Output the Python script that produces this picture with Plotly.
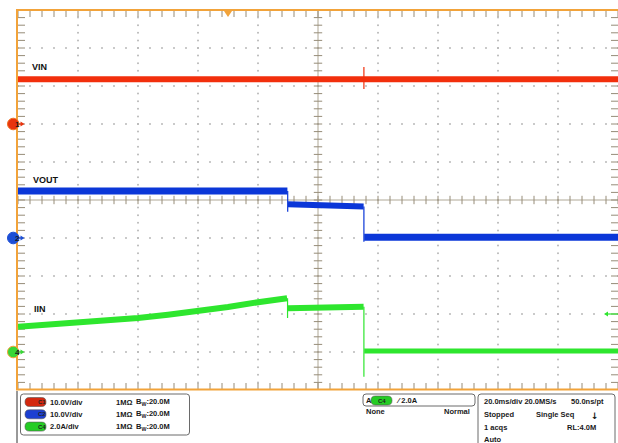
import numpy as np
import plotly.graph_objects as go

# ---------------- data ----------------
# time in ms relative to screen centre (20 ms/div), values in channel units
vin_t = [-100, 100]
vin_v = [11.8, 11.8]
vin_spike_t = [15.3, 15.3]
vin_spike_v = [15.0, 9.2]

vout_seg1_t = [-100, -10.2]
vout_seg1_v = [12.4, 12.4]
vout_seg2_t = [-10.0, 15.2]
vout_seg2_v = [8.9, 8.3]
vout_seg3_t = [15.4, 100]
vout_seg3_v = [0.2, 0.2]
vout_step1_t = [-10.1, -10.1]
vout_step1_v = [12.4, 6.9]
vout_step2_t = [15.3, 15.3]
vout_step2_v = [8.3, -1.0]

iin_seg1_t = [-100, -80, -70, -60, -50, -40, -30, -20, -10.3]
iin_seg1_v = [1.33, 1.53, 1.67, 1.79, 1.96, 2.14, 2.37, 2.62, 2.83]
iin_seg2_t = [-10.0, 15.2]
iin_seg2_v = [2.30, 2.38]
iin_seg3_t = [15.4, 100]
iin_seg3_v = [0.05, 0.05]
iin_step1_t = [-10.15, -10.15]
iin_step1_v = [2.83, 1.79]
iin_step2_t = [15.3, 15.3]
iin_step2_v = [2.38, -1.3]

# channel settings: volts (amps) per division and ground position (divisions)
ch1_scale, ch1_pos = 10.0, 2.0
ch2_scale, ch2_pos = 10.0, -1.0
ch4_scale, ch4_pos = 2.0, -4.0
trigger_level = 2.0
trigger_time = -30.0

left_info = [("C1", "10.0V/div"), ("C2", "10.0V/div"), ("C4", "2.0A/div")]

RED = "#f22f0c"
BLUE = "#0b37d8"
GREEN = "#2ee62e"
ORANGE = "#f2a33a"

W, H = 618, 443
L, T, PW, PH = 18, 10, 600, 380


def px(x):
    return (x - L) / PW


def py(y):
    return (T + PH - y) / PH


def div(vals, scale, pos):
    return [pos + v / scale for v in vals]


fig = go.Figure()

# ---------------- graticule ----------------
gx, gy = [], []
for xm in range(-80, 81, 20):
    if xm == 0:
        continue
    for yv in np.arange(-5, 5.001, 0.2):
        gx.append(xm)
        gy.append(yv)
for ym in range(-4, 5):
    if ym == 0:
        continue
    for xv in np.arange(-100, 100.001, 4):
        gx.append(xv)
        gy.append(ym)
fig.add_trace(go.Scatter(x=gx, y=gy, mode="markers",
                         marker=dict(size=2, color="rgb(185,185,185)"),
                         hoverinfo="skip", showlegend=False))

# centre lines
fig.add_trace(go.Scatter(x=[-100, 100], y=[0, 0], mode="lines",
                         line=dict(color="rgb(175,168,150)", width=1),
                         hoverinfo="skip", showlegend=False))
fig.add_trace(go.Scatter(x=[0, 0], y=[-5, 5], mode="lines",
                         line=dict(color="rgb(175,168,150)", width=1),
                         hoverinfo="skip", showlegend=False))
# ticks on centre lines and edges
tx = list(np.arange(-100, 100.001, 4))
ty = list(np.arange(-5, 5.001, 0.2))
tick_col = "rgb(150,140,120)"
for yy in (0, 5, -5):
    fig.add_trace(go.Scatter(x=tx, y=[yy] * len(tx), mode="markers",
                             marker=dict(symbol="line-ns", size=10 if yy else 6,
                                         line=dict(width=1, color=tick_col)),
                             hoverinfo="skip", showlegend=False))
for xx in (0, -100, 100):
    fig.add_trace(go.Scatter(x=[xx] * len(ty), y=ty, mode="markers",
                             marker=dict(symbol="line-ew", size=10 if xx else 6,
                                         line=dict(width=1, color=tick_col)),
                             hoverinfo="skip", showlegend=False))


# ---------------- waveforms ----------------
def band(t, v, scale, pos, color, width):
    fig.add_trace(go.Scatter(x=t, y=div(v, scale, pos), mode="lines",
                             line=dict(color=color, width=width),
                             hoverinfo="skip", showlegend=False))


band(vin_t, vin_v, ch1_scale, ch1_pos, RED, 6)
band(vin_spike_t, vin_spike_v, ch1_scale, ch1_pos, RED, 1.2)

band(vout_seg1_t, vout_seg1_v, ch2_scale, ch2_pos, BLUE, 7)
band(vout_seg2_t, vout_seg2_v, ch2_scale, ch2_pos, BLUE, 6)
band(vout_seg3_t, vout_seg3_v, ch2_scale, ch2_pos, BLUE, 7)
band(vout_step1_t, vout_step1_v, ch2_scale, ch2_pos, BLUE, 1.2)
band(vout_step2_t, vout_step2_v, ch2_scale, ch2_pos, BLUE, 1.2)

band(iin_seg1_t, iin_seg1_v, ch4_scale, ch4_pos, GREEN, 6)
band(iin_seg2_t, iin_seg2_v, ch4_scale, ch4_pos, GREEN, 6)
band(iin_seg3_t, iin_seg3_v, ch4_scale, ch4_pos, GREEN, 5)
band(iin_step1_t, iin_step1_v, ch4_scale, ch4_pos, GREEN, 1.2)
band(iin_step2_t, iin_step2_v, ch4_scale, ch4_pos, GREEN, 1.2)

# ---------------- decorations ----------------
shapes = []
ann = []

# orange frame
shapes += [
    dict(type="line", xref="paper", yref="paper", x0=px(16), x1=px(618), y0=py(10), y1=py(10),
         line=dict(color=ORANGE, width=2)),
    dict(type="line", xref="paper", yref="paper", x0=px(17), x1=px(17), y0=py(10), y1=py(390),
         line=dict(color=ORANGE, width=2)),
    dict(type="line", xref="paper", yref="paper", x0=px(16), x1=px(618), y0=py(389.5), y1=py(389.5),
         line=dict(color=ORANGE, width=2)),
    dict(type="line", xref="paper", yref="paper", x0=px(17), x1=px(17), y0=py(391), y1=py(443),
         line=dict(color="#333333", width=1)),
]

# trigger position marker (top)
tp = L + (trigger_time + 100) / 200 * PW
shapes.append(dict(type="path", xref="paper", yref="paper",
                   path=f"M {px(tp-4)},{py(11)} L {px(tp+4)},{py(11)} L {px(tp)},{py(17)} Z",
                   fillcolor=ORANGE, line=dict(width=0)))


def arrow(x_tail, x_head, y, col):
    d = 1 if x_head > x_tail else -1
    shapes.append(dict(type="line", xref="paper", yref="paper",
                       x0=px(x_tail), x1=px(x_head - 3 * d), y0=py(y), y1=py(y),
                       line=dict(color=col, width=1.2)))
    shapes.append(dict(type="path", xref="paper", yref="paper",
                       path=(f"M {px(x_head)},{py(y)} L {px(x_head - 4 * d)},{py(y - 2.5)} "
                             f"L {px(x_head - 4 * d)},{py(y + 2.5)} Z"),
                       fillcolor=col, line=dict(width=0)))


# trigger level arrow (right)
tl = T + PH / 2 - (ch4_pos + trigger_level / ch4_scale) * PH / 10
arrow(618, 604, tl, GREEN)

# channel ground markers
for pos, col, ring, num in [(ch1_pos, "#e8340e", "#f07020", "1"),
                            (ch2_pos, "#1d4fd6", "#1d4fd6", "2"),
                            (ch4_pos, "#37d637", ORANGE, "4")]:
    yy = T + PH / 2 - pos * PH / 10
    shapes.append(dict(type="circle", xref="paper", yref="paper",
                       x0=px(7.5), x1=px(19), y0=py(yy - 5.8), y1=py(yy + 5.8),
                       fillcolor=col, line=dict(color=ring, width=1)))
    ann.append(dict(x=px(13.3), y=py(yy), xref="paper", yref="paper", text=f"<b>{num}</b>",
                    showarrow=False, yanchor="middle",
                    font=dict(size=8, color="#1a1a1a", family="Liberation Sans")))
    arrow(19, 24.5, yy, col)

# trace labels
for txt_, x, y in [("VIN", 30, 67), ("VOUT", 31, 180), ("IIN", 32, 309)]:
    ann.append(dict(x=px(x), y=py(y), xref="paper", yref="paper", text=f"<b>{txt_}</b>",
                    showarrow=False, xanchor="left", yanchor="middle",
                    font=dict(size=9, color="#111", family="Liberation Sans")))


def rpath(x0, y0, x1, y1, r, open_bottom=False):
    p = (f"M {px(x0+r)},{py(y0)} L {px(x1-r)},{py(y0)} Q {px(x1)},{py(y0)} {px(x1)},{py(y0+r)} ")
    if open_bottom:
        p += f"L {px(x1)},{py(y1)} M {px(x0)},{py(y1)} "
        p += f"L {px(x0)},{py(y0+r)} Q {px(x0)},{py(y0)} {px(x0+r)},{py(y0)}"
        return p
    p += (f"L {px(x1)},{py(y1-r)} Q {px(x1)},{py(y1)} {px(x1-r)},{py(y1)} "
          f"L {px(x0+r)},{py(y1)} Q {px(x0)},{py(y1)} {px(x0)},{py(y1-r)} "
          f"L {px(x0)},{py(y0+r)} Q {px(x0)},{py(y0)} {px(x0+r)},{py(y0)} Z")
    return p


box_line = dict(color="#6a6a6a", width=1)
shapes.append(dict(type="path", xref="paper", yref="paper",
                   path=rpath(20.5, 394, 189.5, 435, 3), line=box_line))
shapes.append(dict(type="path", xref="paper", yref="paper",
                   path=rpath(363, 394, 475, 406, 3), line=box_line))
shapes.append(dict(type="path", xref="paper", yref="paper",
                   path=rpath(478, 394, 615, 446, 3, open_bottom=True), line=box_line))

FONT = dict(size=7.5, color="#1a1a1a", family="Liberation Sans")
pill_cols = {"C1": "#d3280f", "C2": "#1c3fd2", "C4": "#24cc24"}


def pill(x0, yc, label):
    shapes.append(dict(type="path", xref="paper", yref="paper",
                       path=rpath(x0, yc - 4.5, x0 + 21, yc + 4.5, 4.4),
                       fillcolor=pill_cols[label], line=dict(color="#555", width=0.6)))
    ann.append(dict(x=px(x0 + 10.5), y=py(yc), xref="paper", yref="paper",
                    text=f"<b>{label}</b>", showarrow=False, yanchor="middle",
                    font=dict(size=6, color="#222", family="Liberation Sans")))


def txt(x, y, s, anchor="left"):
    ann.append(dict(x=px(x), y=py(y), xref="paper", yref="paper", text=f"<b>{s}</b>",
                    showarrow=False, xanchor=anchor, yanchor="middle", font=FONT))


for i, (ch, s) in enumerate(left_info):
    yc = 402 + i * 12.3
    pill(25, yc, ch)
    txt(48, yc, s)
    txt(114, yc, "1MΩ")
    txt(134, yc, "B<sub>W</sub>:20.0M")

# trigger box
txt(364, 400.5, "A")
pill(371, 400.5, "C4")
txt(394, 400.5, "⁄ 2.0A")
txt(364, 411.5, "None")
txt(472, 411.5, "Normal", anchor="right")

# acquisition box
txt(482, 401.5, "20.0ms/div 20.0MS/s")
txt(606, 401.5, "50.0ns/pt", anchor="right")
txt(482, 414, "Stopped")
txt(534, 414, "Single Seq")
ann.append(dict(x=px(601), y=py(416), xref="paper", yref="paper", text="<b>↓</b>",
                showarrow=False, yanchor="middle",
                font=dict(size=9, color="#111", family="DejaVu Sans")))
txt(482, 427, "1 acqs")
txt(565, 427, "RL:4.0M")
txt(482, 439, "Auto")

fig.update_layout(
    width=W, height=H,
    margin=dict(l=L, r=W - L - PW, t=T, b=H - T - PH, pad=0),
    paper_bgcolor="white", plot_bgcolor="white",
    xaxis=dict(range=[-100, 100], showgrid=False, zeroline=False, showticklabels=False,
               ticks="", showline=False, fixedrange=True),
    yaxis=dict(range=[-5, 5], showgrid=False, zeroline=False, showticklabels=False,
               ticks="", showline=False, fixedrange=True),
    shapes=shapes, annotations=ann, showlegend=False,
)

fig.write_html("out.html", config=dict(displayModeBar=False),
               post_script="document.body.style.margin='0px';document.body.style.overflow='hidden';")
